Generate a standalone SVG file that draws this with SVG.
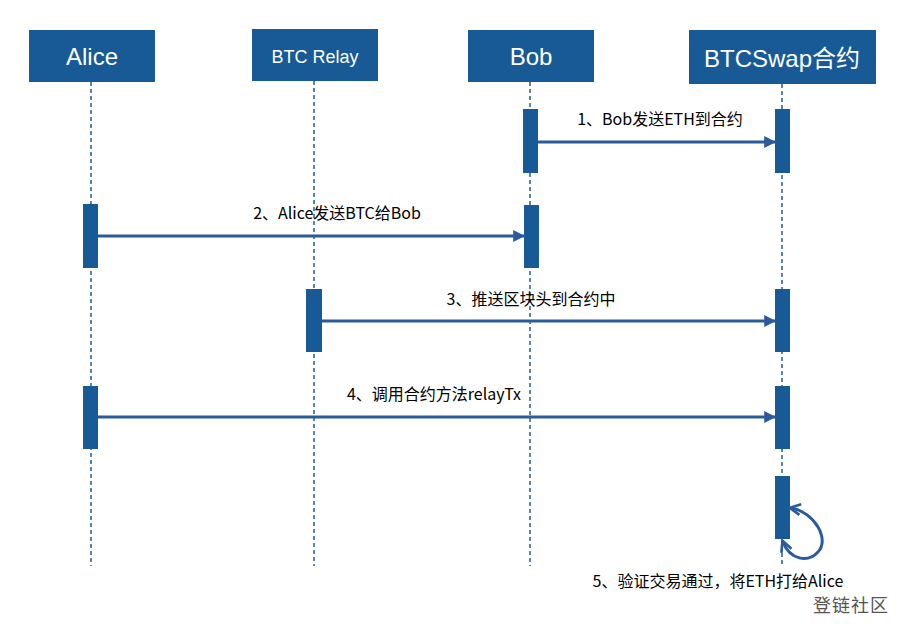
<svg xmlns="http://www.w3.org/2000/svg" width="902" height="624" viewBox="0 0 902 624">
<style>
.box{fill:#175a96;}
.htxt{fill:#ffffff;font-family:"Liberation Sans","Noto Sans CJK SC",sans-serif;text-anchor:middle;}
.life{stroke:#1f5f96;stroke-width:1.5;stroke-dasharray:4,3;fill:none;}
.act{fill:#175a96;}
.msg{stroke:#2a5b9a;stroke-width:3;fill:none;}
.lbl{fill:#000;font-family:"Noto Sans CJK SC",sans-serif;font-size:16px;text-anchor:middle;}
</style>
<defs>
<marker id="ah" viewBox="0 0 10 10" refX="9" refY="5" markerWidth="4" markerHeight="4" orient="auto-start-reverse" markerUnits="strokeWidth">
<path d="M0,0 L10,5 L0,10 z" fill="#2a5b9a"/>
</marker>
<marker id="oh" viewBox="0 0 10 10" refX="8" refY="5" markerWidth="4.5" markerHeight="4.5" orient="auto-start-reverse" markerUnits="strokeWidth">
<path d="M1,1 L9,5 L1,9" fill="none" stroke="#2a5b9a" stroke-width="2"/>
</marker>
</defs>
<rect width="902" height="624" fill="#ffffff"/>
<g id="lifelines">
<line class="life" x1="91" y1="82" x2="91" y2="566"/>
<line class="life" x1="314" y1="81" x2="314" y2="566"/>
<line class="life" x1="530" y1="82" x2="530" y2="566"/>
<line class="life" x1="782" y1="84" x2="782" y2="566"/>
</g>
<g id="alice">
<rect class="box" x="29" y="30" width="126" height="52"/>
<text class="htxt" x="92" y="65" font-size="24">Alice</text>
</g>
<g id="btcrelay">
<rect class="box" x="252" y="29" width="126" height="52"/>
<text class="htxt" x="315" y="63" font-size="18">BTC Relay</text>
</g>
<g id="bob">
<rect class="box" x="468" y="30" width="126" height="52"/>
<text class="htxt" x="531" y="65" font-size="24">Bob</text>
</g>
<g id="btcswap">
<rect class="box" x="689" y="30" width="187" height="54"/>
<text class="htxt" x="782" y="67" font-size="24">BTCSwap合约</text>
</g>
<g id="activations">
<rect class="act" x="523" y="109" width="15" height="64"/>
<rect class="act" x="775" y="109" width="15" height="64"/>
<rect class="act" x="83" y="204" width="15" height="64"/>
<rect class="act" x="524" y="205" width="15" height="63"/>
<rect class="act" x="306" y="289" width="16" height="63"/>
<rect class="act" x="775" y="289" width="15" height="63"/>
<rect class="act" x="83" y="386" width="15" height="63"/>
<rect class="act" x="775" y="386" width="15" height="63"/>
<rect class="act" x="775" y="476" width="15" height="63"/>
</g>
<g id="connectors">
<line class="msg" x1="538" y1="142" x2="775" y2="142" marker-end="url(#ah)"/>
<line class="msg" x1="98" y1="236" x2="524" y2="236" marker-end="url(#ah)"/>
<line class="msg" x1="322" y1="321" x2="775" y2="321" marker-end="url(#ah)"/>
<line class="msg" x1="98" y1="417" x2="775" y2="417" marker-end="url(#ah)"/>
<path class="msg" d="M791,508 C815,512 830,540 818,552 C808,563 790,560 783,542" marker-start="url(#oh)" marker-end="url(#oh)"/>
</g>
<g id="labels">
<text class="lbl" x="660" y="125">1、Bob发送ETH到合约</text>
<text class="lbl" x="337" y="219">2、Alice发送BTC给Bob</text>
<text class="lbl" x="531" y="305">3、推送区块头到合约中</text>
<text class="lbl" x="434" y="400">4、调用合约方法relayTx</text>
<text class="lbl" x="718" y="587">5、验证交易通过，将ETH打给Alice</text>
<text x="851" y="612" font-family="'Noto Sans CJK SC',sans-serif" font-size="18" fill="#555555" text-anchor="middle" letter-spacing="1">登链社区</text>
</g>
</svg>
